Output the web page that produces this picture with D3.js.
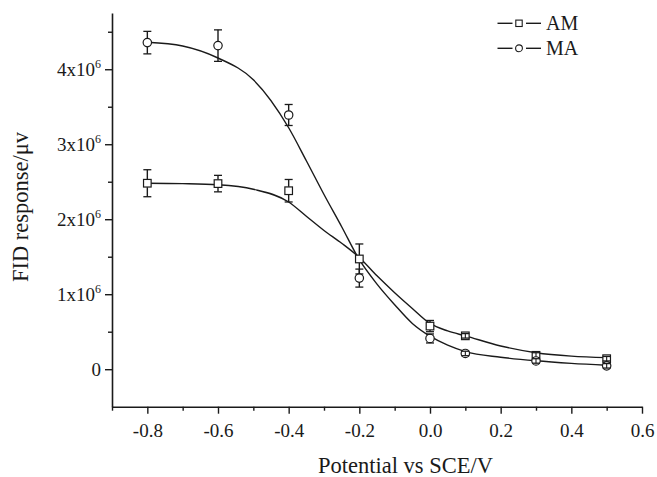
<!DOCTYPE html>
<html>
<head>
<meta charset="utf-8">
<script src="https://cdn.jsdelivr.net/npm/d3@7/dist/d3.min.js"></script>
<style>
  body { margin: 0; background: #fff; }
  svg, svg text { font-family: "Liberation Serif", "Times New Roman", serif !important; }
</style>
</head>
<body>
<svg id="chart" width="657" height="477"></svg>
<script>
// ---- data ----
const potentials = [-0.8, -0.6, -0.4, -0.2, 0.0, 0.1, 0.3, 0.5];
const amValues = [2.48e6, 2.475e6, 2.38e6, 1.47e6, 0.575e6, 0.445e6, 0.185e6, 0.14e6];
const amErrors = [0.18e6, 0.11e6, 0.15e6, 0.20e6, 0.075e6, 0.03e6, 0.035e6, 0.03e6];
const maValues = [4.355e6, 4.315e6, 3.39e6, 1.215e6, 0.41e6, 0.21e6, 0.11e6, 0.045e6];
const maErrors = [0.15e6, 0.21e6, 0.14e6, 0.12e6, 0.06e6, 0.03e6, 0.03e6, 0.03e6];

// fitted (sigmoidal) curves
const fitX  = [-0.8, -0.7, -0.6, -0.5, -0.4, -0.35, -0.3, -0.25, -0.2, -0.15, -0.1, -0.05, 0.0, 0.05, 0.1, 0.2, 0.3, 0.4, 0.5];
const amFit = [2.48e6, 2.475e6, 2.46e6, 2.40e6, 2.23e6, 2.04e6, 1.85e6, 1.68e6, 1.49e6, 1.245e6, 1.02e6, 0.81e6, 0.61e6, 0.51e6, 0.445e6, 0.31e6, 0.22e6, 0.175e6, 0.155e6];
const maFit = [4.36e6, 4.31e6, 4.15e6, 3.86e6, 3.22e6, 2.78e6, 2.33e6, 1.90e6, 1.46e6, 1.135e6, 0.86e6, 0.61e6, 0.44e6, 0.32e6, 0.235e6, 0.16e6, 0.112e6, 0.078e6, 0.053e6];

const xTicks = [-0.8, -0.6, -0.4, -0.2, 0.0, 0.2, 0.4, 0.6];
const xTickLabels = ["-0.8", "-0.6", "-0.4", "-0.2", "0.0", "0.2", "0.4", "0.6"];
const xMinorTicks = [-0.9, -0.7, -0.5, -0.3, -0.1, 0.1, 0.3, 0.5];
const yTicks = [0, 1e6, 2e6, 3e6, 4e6];
const yTickBase = ["0", "1x10", "2x10", "3x10", "4x10"];
const yTickExp = ["", "6", "6", "6", "6"];
const yMinorTicks = [0.5e6, 1.5e6, 2.5e6, 3.5e6, 4.5e6];

const seriesNames = ["AM", "MA"];
const xTitle = "Potential vs SCE/V";
const yTitle = "FID response/\u03BCv";

// ---- layout ----
const svg = d3.select("#chart");
const x = d3.scaleLinear().domain([-0.9, 0.6]).range([112, 642]);
const y = d3.scaleLinear().domain([-0.5e6, 4.75e6]).range([406.7, 13]);
const ink = "#1a1a1a";

// axes
const xAxis = svg.append("g").attr("transform", `translate(0,${y(-0.5e6)})`)
  .call(d3.axisBottom(x).tickValues(xTicks).tickSize(7).tickSizeOuter(0)
    .tickFormat((d, i) => xTickLabels[i]))
  .attr("font-family", null);
xAxis.select(".domain").attr("stroke", ink).attr("stroke-width", 1.6);
xAxis.selectAll(".tick line").attr("stroke", ink).attr("stroke-width", 1.4);
xAxis.selectAll(".tick text").attr("fill", ink).attr("font-size", 19).attr("dy", 0).attr("y", 30);

const xMinor = svg.append("g").attr("transform", `translate(0,${y(-0.5e6)})`)
  .call(d3.axisBottom(x).tickValues(xMinorTicks).tickSize(4).tickSizeOuter(0).tickFormat(""));
xMinor.select(".domain").remove();
xMinor.selectAll(".tick line").attr("stroke", ink).attr("stroke-width", 1.4);

const yAxis = svg.append("g").attr("transform", `translate(${x(-0.9)},0)`)
  .call(d3.axisLeft(y).tickValues(yTicks).tickSize(7).tickSizeOuter(0).tickFormat(""))
  .attr("font-family", null);
yAxis.select(".domain").attr("stroke", ink).attr("stroke-width", 1.6);
yAxis.selectAll(".tick line").attr("stroke", ink).attr("stroke-width", 1.4);
yAxis.selectAll(".tick").each(function(d, i) {
  const t = d3.select(this).append("text")
    .attr("x", -11).attr("y", 6.5)
    .attr("text-anchor", "end").attr("fill", ink).attr("font-size", 19);
  t.append("tspan").text(yTickBase[i]);
  if (yTickExp[i]) t.append("tspan").attr("font-size", 12).attr("dy", -8).text(yTickExp[i]);
});

const yMinor = svg.append("g").attr("transform", `translate(${x(-0.9)},0)`)
  .call(d3.axisLeft(y).tickValues(yMinorTicks).tickSize(4).tickSizeOuter(0).tickFormat(""));
yMinor.select(".domain").remove();
yMinor.selectAll(".tick line").attr("stroke", ink).attr("stroke-width", 1.4);

// axis titles
svg.append("text").attr("x", 405.5).attr("y", 473).attr("text-anchor", "middle")
  .attr("fill", ink).attr("font-size", 22.5).text(xTitle);
svg.append("text").attr("transform", "translate(28,207) rotate(-90)").attr("text-anchor", "middle")
  .attr("fill", ink).attr("font-size", 22.5).text(yTitle);

// fit curves
const line = d3.line().x(d => x(d[0])).y(d => y(d[1])).curve(d3.curveMonotoneX);
[amFit, maFit].forEach(f => {
  svg.append("path").datum(fitX.map((v, i) => [v, f[i]]))
    .attr("d", line).attr("fill", "none").attr("stroke", ink).attr("stroke-width", 1.4);
});

// error bars + markers
function drawSeries(vals, errs, shape) {
  const g = svg.append("g");
  const cap = 4, half = 4;
  potentials.forEach((p, i) => {
    const cx = x(p), cy = y(vals[i]);
    if (shape === "square") {
      g.append("rect").attr("x", cx - 3.8).attr("y", cy - 3.8).attr("width", 7.6).attr("height", 7.6)
        .attr("fill", "#fff").attr("stroke", ink).attr("stroke-width", 1.2);
    } else {
      g.append("circle").attr("cx", cx).attr("cy", cy).attr("r", 4.2)
        .attr("fill", "#fff").attr("stroke", ink).attr("stroke-width", 1.2);
    }
  });
  potentials.forEach((p, i) => {
    const cx = x(p), cy = y(vals[i]);
    const top = y(vals[i] + errs[i]), bot = y(vals[i] - errs[i]);
    if (cy - top > half) {
      g.append("line").attr("x1", cx).attr("x2", cx).attr("y1", top).attr("y2", cy - half)
        .attr("stroke", ink).attr("stroke-width", 1.4);
      g.append("line").attr("x1", cx).attr("x2", cx).attr("y1", cy + half).attr("y2", bot)
        .attr("stroke", ink).attr("stroke-width", 1.4);
    } else {
      g.append("line").attr("x1", cx).attr("x2", cx).attr("y1", top).attr("y2", bot)
        .attr("stroke", ink).attr("stroke-width", 1.1);
    }
    [top, bot].forEach(yy => g.append("line").attr("x1", cx - cap).attr("x2", cx + cap)
      .attr("y1", yy).attr("y2", yy).attr("stroke", ink).attr("stroke-width", 1.3));
  });
}
drawSeries(amValues, amErrors, "square");
drawSeries(maValues, maErrors, "circle");

// legend
const legendY = [23.3, 48.3];
seriesNames.forEach((name, i) => {
  const g = svg.append("g").attr("transform", `translate(0,${legendY[i]})`);
  [[497.5, 512.5], [526, 541]].forEach(s => g.append("line")
    .attr("x1", s[0]).attr("x2", s[1]).attr("y1", 0).attr("y2", 0)
    .attr("stroke", ink).attr("stroke-width", 1.4));
  if (i === 0) {
    g.append("rect").attr("x", 519 - 3.2).attr("y", -3.2).attr("width", 6.4).attr("height", 6.4)
      .attr("fill", "#fff").attr("stroke", ink).attr("stroke-width", 1.1);
  } else {
    g.append("circle").attr("cx", 519).attr("cy", 0).attr("r", 3.4)
      .attr("fill", "#fff").attr("stroke", ink).attr("stroke-width", 1.1);
  }
  g.append("text").attr("x", 546).attr("y", 7).attr("fill", ink).attr("font-size", 20).text(name);
});
</script>
</body>
</html>
